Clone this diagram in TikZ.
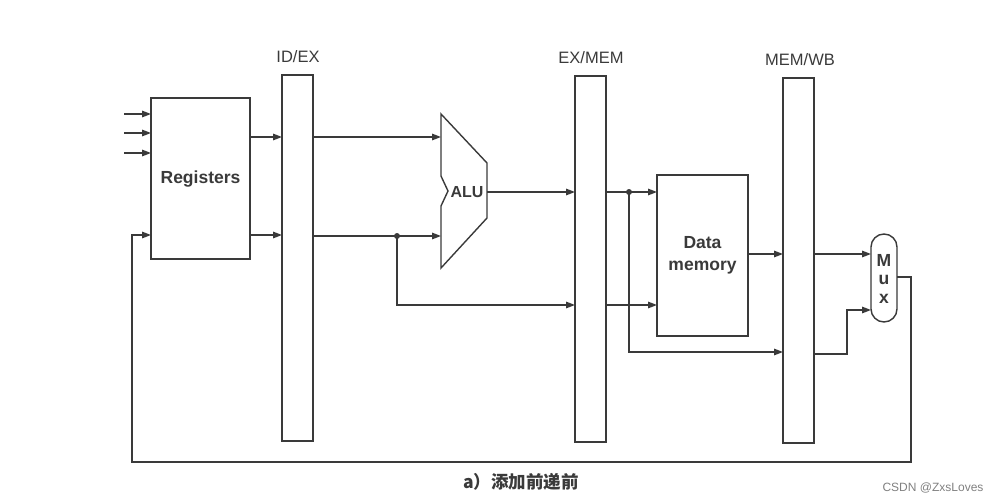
\documentclass[tikz,border=0pt]{standalone}
\usepackage{fontspec}
\setmainfont{Liberation Sans}
\newfontfamily\cjk{Noto Sans CJK SC}
\usetikzlibrary{arrows.meta}
\definecolor{ink}{HTML}{3A3A3A}
\begin{document}
\begin{tikzpicture}[x=1pt,y=-1pt,
  box/.style={draw=ink,line width=1.4pt,fill=white,inner sep=0pt,outer sep=0pt,rectangle},
  bar/.style={box,minimum width=31pt,minimum height=366pt},
  lbl/.style={text=ink,font=\fontsize{17.5}{21}\selectfont\bfseries},
  barlbl/.style={text=ink,font=\fontsize{16.5}{18}\selectfont},
  wire/.style={draw=ink,line width=1.5pt},
  arr/.style={wire,-{Triangle[length=9pt,width=6.5pt]}},
  dot/.style={fill=ink,draw=none,circle,inner sep=0pt,minimum size=6pt}]
\useasboundingbox (0,0) rectangle (1002,503);
% registers and pipeline bars
\node[box,minimum width=99pt,minimum height=161pt] (regs) at (200.5,178.5) {};
\node[lbl] (regstxt) at (200.5,179) {Registers};
\node[bar] (idex) at (297.5,258) {};
\node[bar] (exmem) at (590.5,259) {};
\node[bar,minimum height=365pt] (memwb) at (798.5,260.5) {};
\node[barlbl] (idexl) at (298,57) {ID/EX};
\node[barlbl] (exmeml) at (591,58) {EX/MEM};
\node[barlbl] (memwbl) at (800,60) {MEM/WB};
% data memory
\node[box,minimum width=91pt,minimum height=161pt] (dmem) at (702.5,255.5) {};
\node[lbl,align=center] (dmemtxt) at (702.5,255) {Data\\[1pt]memory};
% ALU
\coordinate (aluA) at (441,114);
\coordinate (aluB) at (487,163);
\coordinate (aluC) at (487,218);
\coordinate (aluD) at (441,268);
\draw[draw=ink,line width=1.4pt,line join=miter] (aluA) -- (aluB) -- (aluC) -- (aluD) -- (441,206) -- (448,191) -- (441,176) -- cycle;
\node[lbl,font=\fontsize{16}{18}\selectfont\bfseries] (alu) at (467,192) {ALU};
% mux
\node[box,minimum width=26pt,minimum height=88pt,rounded corners=13pt] (mux) at (884,278) {};
\node[lbl] (muxm) at (884,260) {M};
\node[lbl] (muxu) at (884,280) {u};
\node[lbl] (muxx) at (884,299) {x};
% register inputs
\coordinate (in1) at (124,114);
\coordinate (in2) at (124,133);
\coordinate (in3) at (124,153);
\draw[arr] (in1) -- (regs.west |- in1);
\draw[arr] (in2) -- (regs.west |- in2);
\draw[arr] (in3) -- (regs.west |- in3);
% registers to ID/EX
\draw[arr] (regs.east |- 0,137) -- (idex.west |- 0,137);
\draw[arr] (regs.east |- 0,235) -- (idex.west |- 0,235);
% ID/EX to ALU
\draw[arr] (idex.east |- 0,137) -- (aluA |- 0,137);
\draw[arr] (idex.east |- 0,236) -- (aluA |- 0,236);
\node[dot] (d1) at (397,236) {};
\draw[arr] (d1.center) |- (exmem.west |- 0,305);
% ALU to EX/MEM
\draw[arr] (aluB |- 0,192) -- (exmem.west |- 0,192);
% EX/MEM to data memory
\draw[arr] (exmem.east |- 0,192) -- (dmem.west |- 0,192);
\node[dot] (d2) at (629,192) {};
\draw[arr] (exmem.east |- 0,305) -- (dmem.west |- 0,305);
\draw[arr] (d2.center) |- (memwb.west |- 0,352);
% data memory to MEM/WB
\draw[arr] (dmem.east |- 0,254) -- (memwb.west |- 0,254);
% MEM/WB to mux
\draw[arr] (memwb.east |- 0,254) -- (mux.west |- 0,254);
\coordinate (m2) at (847,310);
\draw[arr] (memwb.east |- 0,354) -| (m2) -- (mux.west |- m2);
% feedback loop
\coordinate (fbR) at (911,462);
\coordinate (fbL) at (132,235);
\draw[arr] (mux.east |- 0,277) -| (fbR) -| (fbL) -- (regs.west |- fbL);
% caption
\node[text=ink,font=\cjk\bfseries\fontsize{17.5}{20}\selectfont] (cap) at (521,482) {a）添加前递前};
\node[text=gray,font=\fontsize{12}{14}\selectfont] (wm) at (933,488) {CSDN @ZxsLoves};
\end{tikzpicture}
\end{document}
